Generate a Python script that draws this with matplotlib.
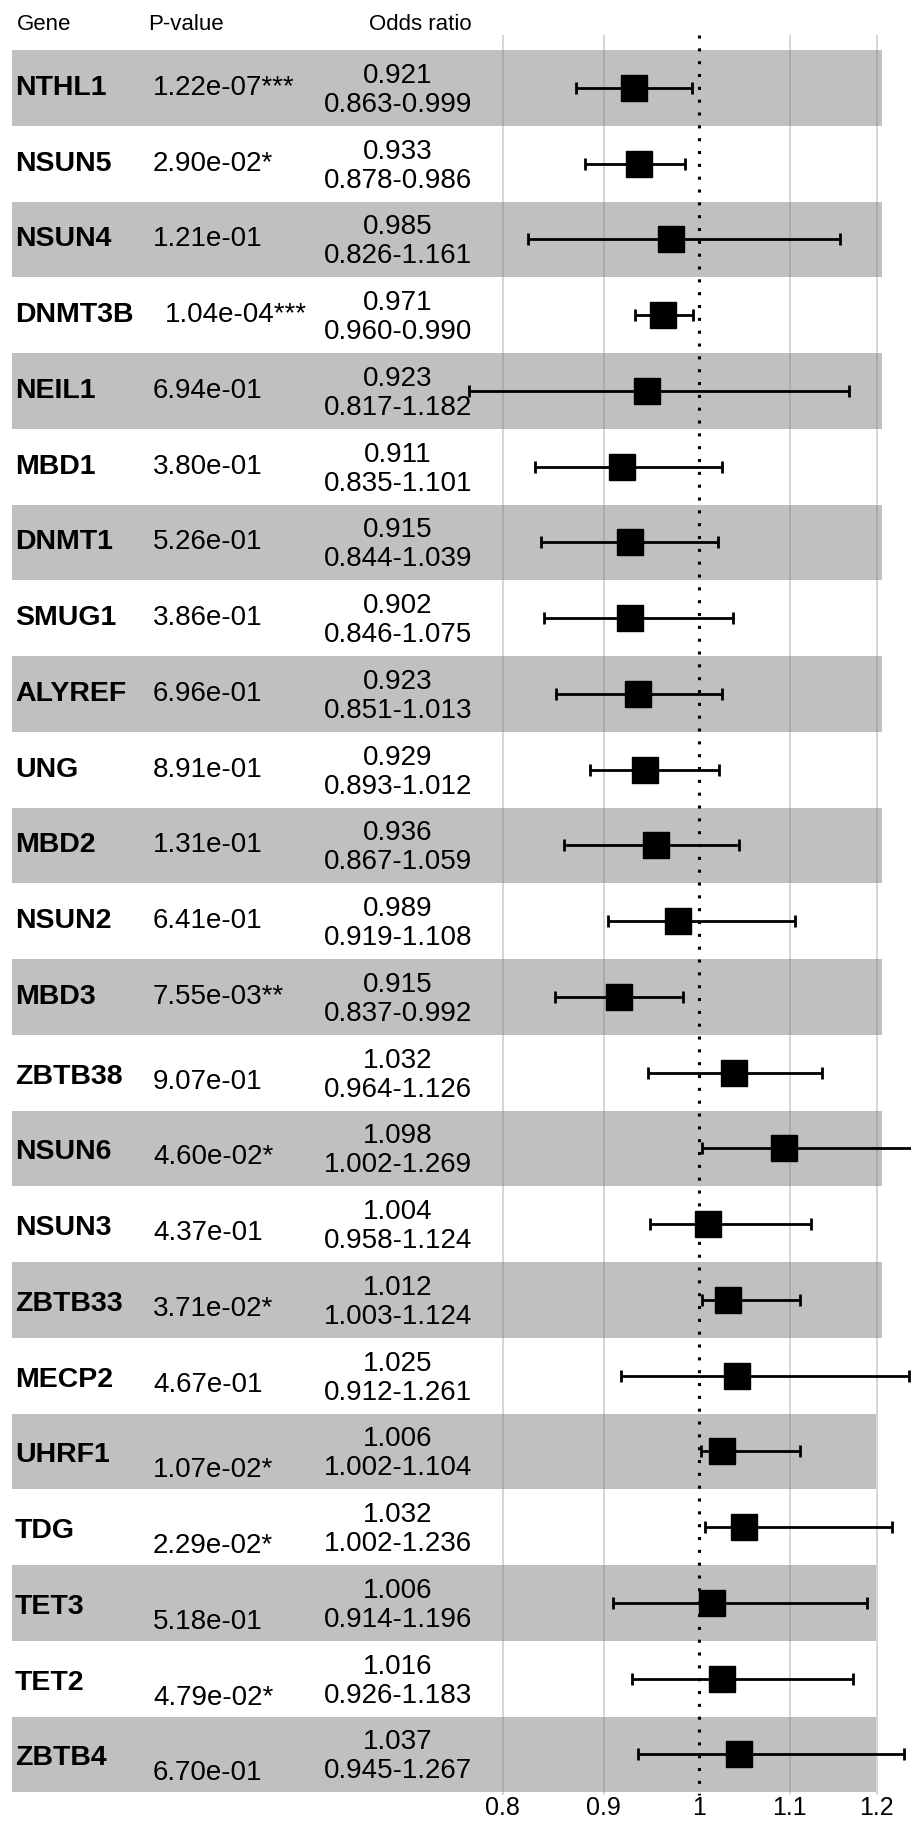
import numpy as np
import matplotlib
matplotlib.use("Agg")
import matplotlib.pyplot as plt
from matplotlib.patches import Rectangle

plt.rcParams['font.family'] = ['Liberation Sans', 'DejaVu Sans']

# table columns
genes = ['NTHL1', 'NSUN5', 'NSUN4', 'DNMT3B', 'NEIL1', 'MBD1', 'DNMT1', 'SMUG1',
         'ALYREF', 'UNG', 'MBD2', 'NSUN2', 'MBD3', 'ZBTB38', 'NSUN6', 'NSUN3',
         'ZBTB33', 'MECP2', 'UHRF1', 'TDG', 'TET3', 'TET2', 'ZBTB4']
pvals = ['1.22e-07***', '2.90e-02*', '1.21e-01', '1.04e-04***', '6.94e-01', '3.80e-01',
         '5.26e-01', '3.86e-01', '6.96e-01', '8.91e-01', '1.31e-01', '6.41e-01',
         '7.55e-03**', '9.07e-01', '4.60e-02*', '4.37e-01', '3.71e-02*', '4.67e-01',
         '1.07e-02*', '2.29e-02*', '5.18e-01', '4.79e-02*', '6.70e-01']
or_text = ['0.921', '0.933', '0.985', '0.971', '0.923', '0.911', '0.915', '0.902',
           '0.923', '0.929', '0.936', '0.989', '0.915', '1.032', '1.098', '1.004',
           '1.012', '1.025', '1.006', '1.032', '1.006', '1.016', '1.037']
ci_text = ['0.863-0.999', '0.878-0.986', '0.826-1.161', '0.960-0.990', '0.817-1.182',
           '0.835-1.101', '0.844-1.039', '0.846-1.075', '0.851-1.013', '0.893-1.012',
           '0.867-1.059', '0.919-1.108', '0.837-0.992', '0.964-1.126', '1.002-1.269',
           '0.958-1.124', '1.003-1.124', '0.912-1.261', '1.002-1.104', '1.002-1.236',
           '0.914-1.196', '0.926-1.183', '0.945-1.267']

# plotted marks as drawn in the figure
or_plot = [0.931, 0.937, 0.970, 0.962, 0.945, 0.919, 0.927, 0.927, 0.936, 0.943, 0.954,
           0.978, 0.916, 1.038, 1.093, 1.010, 1.031, 1.041, 1.025, 1.049, 1.014, 1.025, 1.044]
lo_plot = [0.872, 0.881, 0.825, 0.932, 0.768, 0.831, 0.837, 0.840, 0.852, 0.886, 0.860,
           0.905, 0.851, 0.946, 1.003, 0.948, 1.003, 0.918, 1.002, 1.007, 0.910, 0.929, 0.936]
hi_plot = [0.993, 0.985, 1.157, 0.994, 1.168, 1.025, 1.020, 1.037, 1.025, 1.022, 1.044,
           1.106, 0.983, 1.137, 1.269, 1.124, 1.112, 1.239, 1.112, 1.218, 1.189, 1.172, 1.233]
ticks = [0.8, 0.9, 1, 1.1, 1.2]
tick_labels = ['0.8', '0.9', '1', '1.1', '1.2']

W, H = 912, 1822
fig = plt.figure(figsize=(W / 100, H / 100), dpi=100)

# background axes in pixel coords for table + bands
bg = fig.add_axes([0, 0, 1, 1])
bg.set_xlim(0, W)
bg.set_ylim(H, 0)
bg.axis('off')

top = 50
rh = 75.75
n = len(genes)
yc = top + rh * (np.arange(n) + 0.5)

for i in range(n):
    if i % 2 == 0:
        right = 882 if i < 18 else 876
        bg.add_patch(Rectangle((12, top + rh * i), right - 12, rh,
                               facecolor='#c0c0c0', edgecolor='none', zorder=0))

fs = 20
for i in range(n):
    dn = 0 if i < 13 else 4
    dp = 0 if i < 13 else (9 if i < 18 else 19)
    bg.text(15, yc[i] + dn, genes[i], fontsize=20.5, fontweight='bold',
            ha='left', va='center', zorder=3)
    px = 165 if genes[i] == 'DNMT3B' else 153
    bg.text(px, yc[i] + dp, pvals[i], fontsize=fs, ha='left', va='center', zorder=3)
    bg.text(398, yc[i] - 12, or_text[i], fontsize=fs, ha='center', va='center', zorder=3)
    bg.text(398, yc[i] + 17, ci_text[i], fontsize=fs, ha='center', va='center', zorder=3)

bg.text(17, 24, 'Gene', fontsize=16, ha='left', va='center')
bg.text(148, 24, 'P-value', fontsize=16, ha='left', va='center')
bg.text(472, 24, 'Odds ratio', fontsize=16, ha='right', va='center')

# forest plot axes, sqrt-like scale
x_one, k = 699, 1860
left_px, right_px = 440, W
ax = fig.add_axes([left_px / W, 0, (right_px - left_px) / W, 1])
ax.patch.set_alpha(0)
ax.set_xscale('function', functions=(np.sqrt, np.square))
ax.set_xlim((1 + (left_px - x_one) / k) ** 2, (1 + (right_px - x_one) / k) ** 2)
ax.set_ylim(H, 0)
ax.axis('off')

for t in ticks:
    if t != 1:
        ax.vlines(t, 35, 1795, color='gray', alpha=0.35, lw=1.3, zorder=1)
ax.vlines(1, 35, 1795, color='black', lw=2.2, linestyles=(0, (1, 3.2)), zorder=2)

lo = np.array(lo_plot)
hi = np.array(hi_plot)
est = np.array(or_plot)
ax.errorbar(est, yc, xerr=[est - lo, hi - est], fmt='none', ecolor='black',
            elinewidth=2, capsize=4, capthick=2, zorder=3)
ax.plot(est, yc, 's', color='black', markersize=19, zorder=4)

for t, lab in zip(ticks, tick_labels):
    ax.text(t, 1808, lab, fontsize=18, ha='center', va='center')

fig.savefig('out.png', dpi=100)
